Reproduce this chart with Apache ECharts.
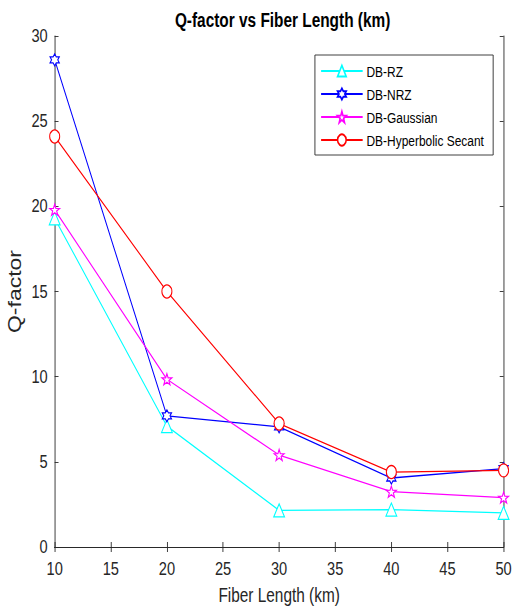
<!DOCTYPE html>
<html>
<head>
<meta charset="utf-8">
<script src="https://cdn.jsdelivr.net/npm/echarts@6/dist/echarts.min.js"></script>
<style>
  html,body{margin:0;padding:0;background:#fff;overflow:hidden}
  /* the source figure is horizontally squeezed; draw wide, then squeeze the same way */
  #ch{width:666px;height:610px;transform:scaleX(0.77);transform-origin:0 0}
</style>
</head>
<body>
<div id="ch"></div>
<script>
// fiber lengths (km)
const lengths = [10, 20, 30, 40, 50];
// Q-factor per modulation format
const rz       = [19.3, 7.1, 2.15, 2.2, 2.0];
const nrz      = [28.6, 7.7, 7.05, 4.05, 4.6];
const gaussian = [19.8, 9.85, 5.4, 3.25, 2.9];
const hypsec   = [24.1, 15.0, 7.25, 4.4, 4.5];
const names = ['DB-RZ', 'DB-NRZ', 'DB-Gaussian', 'DB-Hyperbolic Secant'];
const xTicks = { min: 10, max: 50, interval: 5 };
const yTicks = { min: 0, max: 30, interval: 5 };

// marker shapes (MATLAB ^ h p o)
const HEX = 'path://M0,-10L2.9,-5L8.66,-5L5.8,0L8.66,5L2.9,5L0,10L-2.9,5L-8.66,5L-5.8,0L-8.66,-5L-2.9,-5Z';
const PENT = 'path://M0,-10L2.35,-3.24L9.51,-3.09L3.8,1.24L5.88,8.09L0,4L-5.88,8.09L-3.8,1.24L-9.51,-3.09L-2.35,-3.24Z';

const FONT = "'Liberation Sans', sans-serif";
const pairs = ys => lengths.map((x, i) => [x, ys[i]]);

const mk = (name, ys, color, symbol, size) => ({
  name, type: 'line', data: pairs(ys), symbol, symbolSize: size,
  lineStyle: { color, width: 1.3 },
  itemStyle: { color: '#fff', borderColor: color, borderWidth: 1.3 },
  emphasis: { disabled: true }, animation: false
});

const axisCommon = {
  axisLine: { show: true, lineStyle: { color: '#262626', width: 1 } },
  axisTick: { show: true, inside: true, length: 5, lineStyle: { color: '#262626' } },
  splitLine: { show: false }
};

const chart = echarts.init(document.getElementById('ch'), null, { renderer: 'svg' });
chart.setOption({
  backgroundColor: '#fff',
  title: {
    text: 'Q-factor vs Fiber Length (km)', left: 362, top: 5, textAlign: 'center',
    textStyle: { fontFamily: FONT, fontSize: 20, fontWeight: 'bold', color: '#000' }
  },
  grid: { left: 71, right: 12, top: 36, bottom: 63, containLabel: false, outerBoundsMode: 'none' },
  legend: {
    data: names, orient: 'vertical', left: 409, top: 55,
    itemWidth: 54, itemHeight: 14, itemGap: 7,
    padding: [8, 12, 7, 7], borderColor: '#262626', borderWidth: 1, backgroundColor: '#fff',
    textStyle: { fontFamily: FONT, fontSize: 15.5, color: '#000' }
  },
  xAxis: [
    Object.assign({
      type: 'value', ...xTicks,
      name: 'Fiber Length (km)', nameLocation: 'middle', nameGap: 38,
      nameTextStyle: { fontFamily: FONT, fontSize: 20, color: '#262626' },
      axisLabel: { fontFamily: FONT, fontSize: 19, color: '#262626', margin: 12 }
    }, axisCommon),
    Object.assign({ type: 'value', ...xTicks, position: 'top', axisLabel: { show: false } }, axisCommon)
  ],
  yAxis: [
    Object.assign({
      type: 'value', ...yTicks,
      name: 'Q-factor', nameLocation: 'middle', nameGap: 32, nameRotate: 90,
      nameTextStyle: { fontFamily: FONT, fontSize: 23, color: '#262626' },
      axisLabel: { fontFamily: FONT, fontSize: 19, color: '#262626', margin: 9 }
    }, axisCommon),
    Object.assign({ type: 'value', ...yTicks, position: 'right', axisLabel: { show: false } }, axisCommon)
  ],
  series: [
    mk(names[0], rz, '#00FFFF', 'triangle', [14, 13]),
    mk(names[1], nrz, '#0000FF', HEX, [12, 12]),
    mk(names[2], gaussian, '#FF00FF', PENT, [13, 11]),
    mk(names[3], hypsec, '#FF0000', 'circle', [13, 13])
  ]
});
</script>
</body>
</html>
